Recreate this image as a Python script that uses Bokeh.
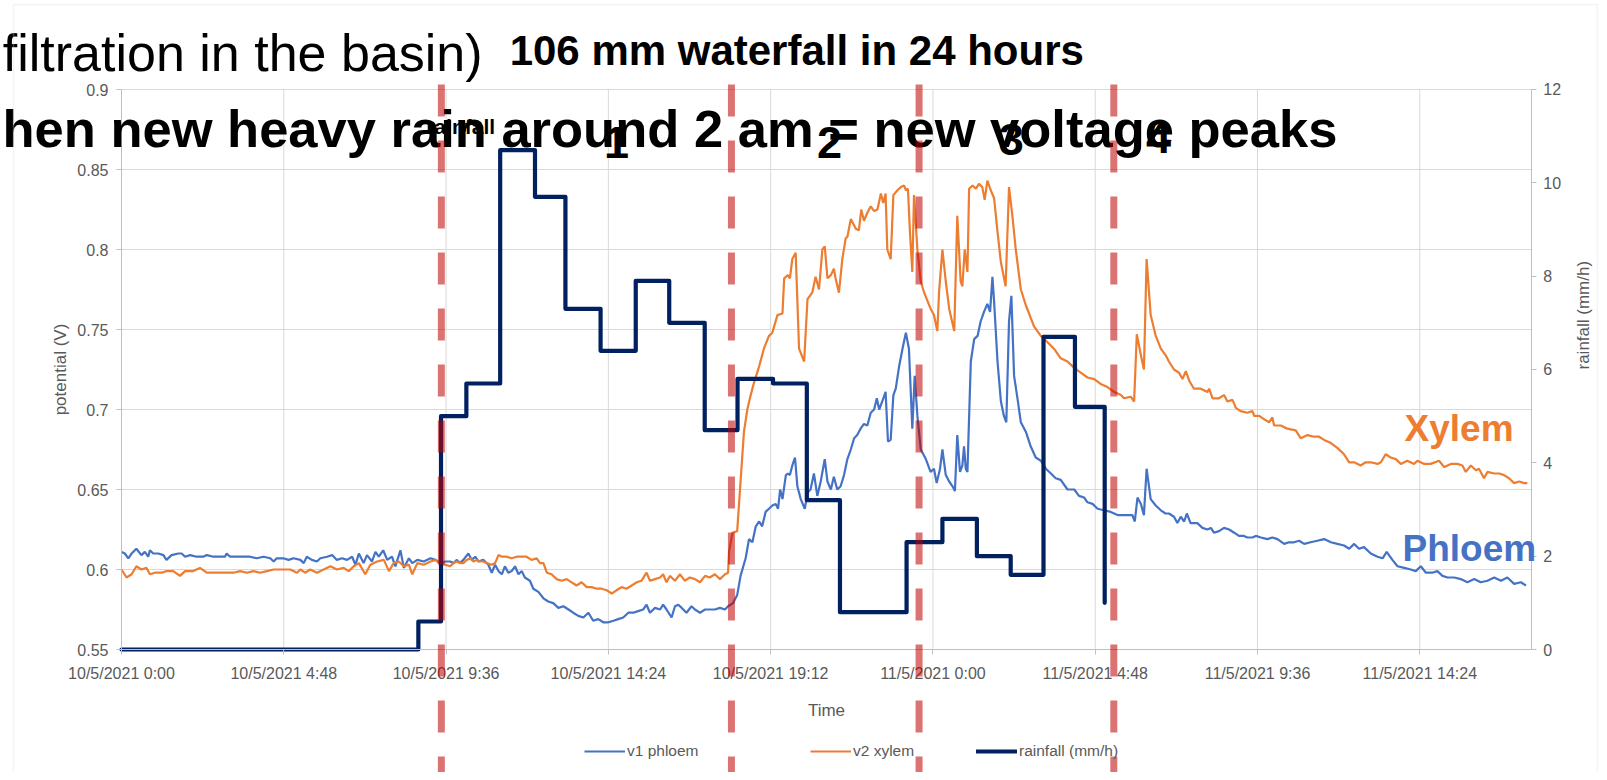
import math
from bokeh.plotting import figure
from bokeh.models import (Range1d, LinearAxis, FixedTicker, Label, Arrow, Legend,
                          LegendItem, BoxAnnotation)
from bokeh.embed import file_html
from bokeh.resources import INLINE

# ---------------- data (hours since 10/5/2021 0:00) ----------------
x_tick_hours = [0, 4.8, 9.6, 14.4, 19.2, 24, 28.8, 33.6, 38.4]
x_tick_labels = ["10/5/2021 0:00", "10/5/2021 4:48", "10/5/2021 9:36", "10/5/2021 14:24",
                 "10/5/2021 19:12", "11/5/2021 0:00", "11/5/2021 4:48", "11/5/2021 9:36",
                 "11/5/2021 14:24"]
v_ticks = [0.55, 0.6, 0.65, 0.7, 0.75, 0.8, 0.85, 0.9]
v_tick_labels = ["0.55", "0.6", "0.65", "0.7", "0.75", "0.8", "0.85", "0.9"]
rain_ticks = [0, 2, 4, 6, 8, 10, 12]
x_end_h = 41.7

phloem_h = [0.00, 0.10, 0.20, 0.30, 0.44, 0.59, 0.69, 0.79, 0.84, 0.94, 1.09, 1.24, 1.33, 1.48,
            1.68, 1.78, 1.88, 2.03, 2.22, 2.42, 2.52, 2.72, 2.92, 3.06, 3.11, 3.21, 3.41, 3.61,
            3.80, 4.00, 4.20, 4.40, 4.50, 4.59, 4.79, 4.94, 5.09, 5.29, 5.39, 5.48, 5.63, 5.78,
            5.88, 6.08, 6.23, 6.37, 6.52, 6.67, 6.82, 6.92, 7.02, 7.16, 7.26, 7.41, 7.51, 7.61,
            7.74, 7.86, 8.00, 8.10, 8.25, 8.35, 8.50, 8.60, 8.75, 8.94, 9.14, 9.29, 9.44, 9.58,
            9.72, 9.82, 9.92, 10.01, 10.11, 10.26, 10.36, 10.46, 10.56, 10.70, 10.85, 10.95,
            11.05, 11.15, 11.25, 11.34, 11.44, 11.54, 11.64, 11.74, 11.84, 11.93, 12.08, 12.18,
            12.33, 12.48, 12.62, 12.77, 12.92, 13.07, 13.22, 13.36, 13.51, 13.66, 13.81, 13.95,
            14.10, 14.25, 14.40, 14.55, 14.69, 14.84, 14.99, 15.14, 15.28, 15.43, 15.53, 15.63,
            15.78, 15.93, 16.02, 16.12, 16.27, 16.37, 16.47, 16.57, 16.71, 16.86, 16.96, 17.11,
            17.26, 17.40, 17.55, 17.70, 17.85, 17.94, 18.09,
            18.21, 18.31, 18.46, 18.56, 18.66, 18.76, 18.86, 18.95, 19.05, 19.15, 19.25, 19.35,
            19.42, 19.48, 19.55, 19.65, 19.71, 19.77, 19.84, 19.92, 19.99, 20.09, 20.21, 20.29,
            20.38, 20.48, 20.58, 20.68, 20.80, 20.88, 20.98, 21.07, 21.17, 21.27, 21.37, 21.47,
            21.57, 21.67, 21.76, 21.86, 21.96, 22.06, 22.16, 22.26, 22.34, 22.41, 22.50, 22.60,
            22.67, 22.75, 22.83, 22.90, 23.00, 23.10, 23.20, 23.29, 23.39, 23.46, 23.54, 23.64,
            23.79, 23.93, 24.03, 24.11, 24.21, 24.28, 24.38, 24.48, 24.58, 24.65, 24.72, 24.80,
            24.87, 24.92, 24.97, 25.02, 25.12, 25.22, 25.32, 25.41, 25.51, 25.61, 25.69, 25.76,
            25.81, 25.91, 26.01, 26.10, 26.17, 26.25, 26.32, 26.40, 26.50, 26.60, 26.75, 26.89,
            27.04, 27.19, 27.34, 27.49, 27.63, 27.78, 27.98, 28.18, 28.32, 28.47, 28.57, 28.72,
            28.87, 29.06, 29.26, 29.46,
            29.65, 29.90, 29.97, 30.05, 30.15, 30.24, 30.32, 30.44, 30.59, 30.74, 30.88, 30.98,
            31.13, 31.23, 31.33, 31.43, 31.51, 31.62, 31.82, 31.97, 32.12, 32.22, 32.31, 32.46,
            32.61, 32.76, 32.91, 33.05, 33.20, 33.30, 33.45, 33.55, 33.70, 33.89, 34.04, 34.19,
            34.39, 34.53, 34.68, 34.83, 34.98, 35.17, 35.37, 35.57, 35.77, 35.96, 36.16, 36.31,
            36.46, 36.60, 36.75, 36.95, 37.15, 37.30, 37.42, 37.59, 37.74, 37.94, 38.13, 38.28,
            38.43, 38.58, 38.77, 38.92, 39.07, 39.22, 39.42, 39.61, 39.81, 40.01, 40.20, 40.40,
            40.60, 40.80, 40.99, 41.19, 41.39, 41.54]
phloem_v = [0.611, 0.610, 0.607, 0.610, 0.613, 0.609, 0.611, 0.608, 0.612, 0.610, 0.610, 0.609,
            0.606, 0.609, 0.610, 0.610, 0.608, 0.609, 0.608, 0.608, 0.609, 0.608, 0.608, 0.608,
            0.610, 0.608, 0.608, 0.608, 0.608, 0.607, 0.608, 0.607, 0.605, 0.607, 0.607, 0.606,
            0.607, 0.606, 0.604, 0.608, 0.606, 0.605, 0.607, 0.608, 0.609, 0.606, 0.607, 0.606,
            0.608, 0.603, 0.610, 0.604, 0.609, 0.605, 0.611, 0.608, 0.612, 0.606, 0.608, 0.602,
            0.612, 0.601, 0.607, 0.604, 0.606, 0.605, 0.607, 0.606, 0.604, 0.605,
            0.605, 0.604, 0.606, 0.604, 0.606, 0.610, 0.606, 0.608, 0.605, 0.606, 0.603, 0.598,
            0.603, 0.599, 0.597, 0.602, 0.598, 0.599, 0.602, 0.597, 0.599, 0.595, 0.593, 0.588,
            0.586, 0.582, 0.580, 0.579, 0.576, 0.577, 0.575, 0.573, 0.571, 0.570, 0.573, 0.568,
            0.569, 0.567, 0.567, 0.568, 0.569, 0.570, 0.573, 0.573, 0.574, 0.575, 0.578, 0.573,
            0.576, 0.575, 0.578, 0.575, 0.570, 0.577, 0.578, 0.576, 0.573, 0.577, 0.575, 0.573,
            0.575, 0.575, 0.575, 0.576, 0.575, 0.577, 0.579,
            0.584, 0.596, 0.607, 0.619, 0.617, 0.627, 0.630, 0.627, 0.636, 0.638, 0.640, 0.641,
            0.638, 0.650, 0.644, 0.659, 0.660, 0.659, 0.665, 0.670, 0.652, 0.644, 0.638, 0.648,
            0.650, 0.660, 0.646, 0.655, 0.669, 0.655, 0.650, 0.658, 0.650, 0.652, 0.659, 0.669,
            0.675, 0.682, 0.684, 0.688, 0.691, 0.690, 0.698, 0.700, 0.707, 0.700, 0.705, 0.711,
            0.680, 0.681, 0.709, 0.713, 0.727, 0.738, 0.748, 0.738, 0.688, 0.721, 0.696, 0.675,
            0.669, 0.661, 0.663, 0.654, 0.663, 0.675, 0.659, 0.655, 0.652, 0.649, 0.684, 0.661,
            0.665, 0.677, 0.663, 0.661, 0.730, 0.744, 0.746, 0.755, 0.761, 0.766, 0.761, 0.783,
            0.767, 0.730, 0.705, 0.696, 0.692, 0.755, 0.771, 0.721, 0.707, 0.692, 0.686, 0.677,
            0.670, 0.668, 0.663, 0.660, 0.657, 0.656, 0.650, 0.650, 0.646, 0.645, 0.642, 0.641,
            0.638, 0.637, 0.636, 0.634,
            0.634, 0.634, 0.630, 0.645, 0.641, 0.634, 0.663, 0.644, 0.640, 0.637, 0.635, 0.635,
            0.633, 0.629, 0.633, 0.630, 0.635, 0.629, 0.629, 0.626, 0.625, 0.626, 0.623, 0.624,
            0.626, 0.625, 0.623, 0.621, 0.621, 0.620, 0.620, 0.621, 0.620, 0.619, 0.620, 0.619,
            0.616, 0.617, 0.617, 0.618, 0.616, 0.617, 0.618, 0.619, 0.617, 0.616, 0.615, 0.613,
            0.616, 0.613, 0.614, 0.610, 0.608, 0.607, 0.611, 0.606, 0.602, 0.601, 0.600, 0.599,
            0.602, 0.598, 0.598, 0.599, 0.596, 0.595, 0.595, 0.594, 0.592, 0.594, 0.592, 0.593,
            0.595, 0.593, 0.595, 0.591, 0.592, 0.590]

xylem_h = [0.00, 0.15, 0.30, 0.44, 0.59, 0.74, 0.84, 0.99, 1.19, 1.33, 1.53, 1.73, 1.88, 2.12,
           2.32, 2.52, 2.82, 3.11, 3.31, 3.51, 3.71, 3.90, 4.10, 4.30, 4.50, 4.79, 4.99, 5.19,
           5.29, 5.43, 5.58, 5.78, 5.98, 6.18, 6.37, 6.57, 6.72, 6.87, 7.02, 7.21, 7.36, 7.56,
           7.76, 7.91, 8.05, 8.20, 8.35, 8.50, 8.60, 8.75, 8.94, 9.14, 9.29, 9.44, 9.58,
           9.72, 9.82, 9.92, 10.01, 10.11, 10.21, 10.31, 10.41, 10.51, 10.60, 10.70, 10.80,
           10.95, 11.05, 11.15, 11.25, 11.39, 11.54, 11.69, 11.84, 11.98, 12.13, 12.28, 12.38,
           12.48, 12.58, 12.72, 12.87, 13.02, 13.17, 13.31, 13.46, 13.61, 13.76, 13.91, 14.05,
           14.20, 14.35, 14.50, 14.64, 14.79, 14.94, 15.09, 15.24, 15.38, 15.53, 15.63, 15.78,
           15.93, 16.02, 16.12, 16.22, 16.37, 16.52, 16.66, 16.81, 16.96, 17.11, 17.26, 17.40,
           17.55, 17.70, 17.85, 17.94,
           17.97, 18.07, 18.21, 18.31, 18.41, 18.51, 18.61, 18.71, 18.86, 19.00, 19.15, 19.25,
           19.40, 19.55, 19.60, 19.71, 19.77, 19.84, 19.94, 20.04, 20.19, 20.29, 20.43, 20.53,
           20.63, 20.73, 20.80, 20.88, 20.98, 21.07, 21.12, 21.22, 21.32, 21.42, 21.47, 21.57,
           21.72, 21.81, 21.88, 21.96, 22.06, 22.16, 22.26, 22.36, 22.46, 22.53, 22.60, 22.65,
           22.75, 22.83, 22.95, 23.05, 23.15, 23.20, 23.26, 23.32, 23.39, 23.44, 23.54, 23.64,
           23.74, 23.93, 24.03, 24.13, 24.18, 24.28, 24.38, 24.48, 24.63, 24.72, 24.82, 24.87,
           24.94, 25.02, 25.07, 25.17, 25.27, 25.36, 25.46, 25.53, 25.61, 25.71, 25.81, 25.91,
           26.01, 26.15, 26.25, 26.35, 26.45, 26.60, 26.75, 26.99, 27.19, 27.39, 27.58, 27.78,
           27.98, 28.18, 28.37, 28.57, 28.77, 28.96, 29.16, 29.36, 29.56,
           29.65, 29.85, 29.95, 30.03, 30.15, 30.24, 30.32, 30.44, 30.59, 30.74, 30.88, 30.98,
           31.13, 31.28, 31.38, 31.48, 31.58, 31.72, 31.92, 32.12, 32.17, 32.27, 32.46, 32.61,
           32.71, 32.86, 32.96, 33.10, 33.30, 33.45, 33.50, 33.65, 33.79, 33.94, 34.04, 34.09,
           34.29, 34.48, 34.73, 34.88, 35.08, 35.27, 35.42, 35.57, 35.77, 35.96, 36.16, 36.31,
           36.46, 36.65, 36.80, 36.95, 37.15, 37.25, 37.39, 37.54, 37.69, 37.84, 38.03, 38.23,
           38.33, 38.53, 38.72, 38.97, 39.12, 39.32, 39.51, 39.66, 39.76, 39.91, 40.06, 40.15,
           40.30, 40.40, 40.60, 40.75, 40.89, 41.04, 41.19, 41.34, 41.49, 41.58]
xylem_v = [0.600, 0.595, 0.597, 0.602, 0.600, 0.601, 0.597, 0.598, 0.598, 0.599, 0.599, 0.596,
           0.599, 0.599, 0.601, 0.598, 0.598, 0.598, 0.598, 0.599, 0.598, 0.599, 0.598, 0.599,
           0.600, 0.600, 0.600, 0.598, 0.600, 0.598, 0.600, 0.598, 0.600, 0.602, 0.600, 0.601,
           0.599, 0.602, 0.604, 0.597, 0.603, 0.605, 0.606, 0.599, 0.604, 0.605, 0.602, 0.603,
           0.597, 0.604, 0.603, 0.605, 0.606, 0.603, 0.603,
           0.602, 0.604, 0.605, 0.604, 0.604, 0.606, 0.607, 0.605, 0.606, 0.605, 0.605, 0.604,
           0.603, 0.604, 0.609, 0.608, 0.608, 0.607, 0.608, 0.608, 0.608, 0.606, 0.607, 0.604,
           0.604, 0.598, 0.597, 0.594, 0.593, 0.594, 0.592, 0.590, 0.592, 0.589, 0.589, 0.588,
           0.588, 0.587, 0.585, 0.587, 0.589, 0.588, 0.590, 0.592, 0.593, 0.598, 0.593, 0.594,
           0.595, 0.597, 0.592, 0.596, 0.593, 0.597, 0.593, 0.595, 0.594, 0.592, 0.596, 0.595,
           0.597, 0.594, 0.597, 0.598,
           0.611, 0.623, 0.624, 0.655, 0.686, 0.700, 0.709, 0.717, 0.727, 0.738, 0.746, 0.748,
           0.759, 0.760, 0.782, 0.784, 0.782, 0.794, 0.798, 0.738, 0.730, 0.769, 0.773, 0.783,
           0.775, 0.800, 0.802, 0.782, 0.784, 0.788, 0.782, 0.773, 0.794, 0.807, 0.808, 0.819,
           0.813, 0.812, 0.825, 0.818, 0.823, 0.827, 0.824, 0.825, 0.835, 0.829, 0.835, 0.800,
           0.794, 0.834, 0.837, 0.839, 0.840, 0.837, 0.838, 0.811, 0.786, 0.834, 0.800, 0.780,
           0.773, 0.763, 0.759, 0.749, 0.773, 0.800, 0.780, 0.763, 0.749, 0.821, 0.780, 0.777,
           0.800, 0.786, 0.838, 0.840, 0.838, 0.841, 0.839, 0.831, 0.843, 0.837, 0.832, 0.811,
           0.792, 0.777, 0.839, 0.821, 0.800, 0.775, 0.765, 0.752, 0.746, 0.742, 0.738, 0.732,
           0.730, 0.726, 0.723, 0.720, 0.719, 0.716, 0.714, 0.711, 0.709,
           0.707, 0.708, 0.705, 0.747, 0.734, 0.725, 0.794, 0.759, 0.746, 0.738, 0.734, 0.730,
           0.725, 0.723, 0.719, 0.724, 0.718, 0.713, 0.713, 0.711, 0.713, 0.707, 0.707, 0.709,
           0.705, 0.706, 0.701, 0.699, 0.698, 0.699, 0.696, 0.696, 0.694, 0.692, 0.695, 0.690,
           0.690, 0.688, 0.687, 0.682, 0.684, 0.683, 0.683, 0.681, 0.679, 0.676, 0.672, 0.667,
           0.667, 0.665, 0.667, 0.667, 0.666, 0.667, 0.672, 0.670, 0.669, 0.666, 0.668, 0.666,
           0.668, 0.666, 0.666, 0.668, 0.664, 0.666, 0.666, 0.665, 0.661, 0.665, 0.662, 0.663,
           0.657, 0.661, 0.660, 0.660, 0.659, 0.657, 0.654, 0.655, 0.654, 0.654]

# hourly rainfall (mm/h): start of each step and its value
rain_h = [0, 8.78, 9.45, 10.2, 11.2, 12.23, 13.13, 14.17, 15.21, 16.2, 17.25, 18.22, 19.27,
          20.27, 21.25, 23.22, 24.28, 25.3, 26.3, 27.27, 28.2, 29.08]
rain_v = [0, 0.6, 5.0, 5.7, 10.7, 9.7, 7.3, 6.4, 7.9, 7.0, 4.7, 5.8, 5.7,
          3.2, 0.8, 2.3, 2.8, 2.0, 1.6, 6.7, 5.2, 1.0]

# red dashed event markers (hours) and their numbers
event_h = [9.46, 18.04, 23.59, 29.35]
event_labels = ["1", "2", "3", "4"]

# ---------------- styles ----------------
BLUE = "#4472C4"
ORANGE = "#ED7D31"
NAVY = "#002060"
GREY_TXT = "#595959"
GRID = "#D9D9D9"
AXIS = "#BFBFBF"
FONT = "Liberation Sans"

# The frame fills the whole canvas (axes use fixed locations), so that slide
# overlays (texts, dashed markers, legend) are not clipped by the frame.
W, H = 1599, 772
p = figure(width=W, height=H, output_backend="svg", toolbar_location=None,
           title_location=None, x_axis_location=None, y_axis_location=None,
           x_range=Range1d(-3.579, 43.715), y_range=Range1d(0.473125, 0.955625),
           min_border_left=0, min_border_right=0, min_border_top=0, min_border_bottom=0)
p.outline_line_color = None
p.background_fill_color = "white"
p.border_fill_color = "white"
p.xgrid.visible = False
p.ygrid.visible = False
p.extra_y_ranges = {"rain": Range1d(-2.6357, 13.9071)}

# grid lines of the chart area
p.segment(x0=x_tick_hours, y0=[v_ticks[0]] * len(x_tick_hours),
          x1=x_tick_hours, y1=[v_ticks[-1]] * len(x_tick_hours),
          line_color=GRID, line_width=1, level="underlay")
p.segment(x0=[0] * len(v_ticks), y0=v_ticks, x1=[x_end_h] * len(v_ticks), y1=v_ticks,
          line_color=GRID, line_width=1, level="underlay")

r_ph = p.line(phloem_h, phloem_v, line_color=BLUE, line_width=2.2)
r_xy = p.line(xylem_h, xylem_v, line_color=ORANGE, line_width=2.2)
r_rain = p.step(rain_h, rain_v, mode="after", y_range_name="rain", line_color=NAVY,
                line_width=4.2, line_join="round", line_cap="round")

# axes
xa = LinearAxis(fixed_location=v_ticks[0], bounds=(0, x_end_h),
                ticker=FixedTicker(ticks=x_tick_hours),
                major_label_overrides=dict(zip(x_tick_hours, x_tick_labels)),
                axis_label="Time", major_label_standoff=10, axis_label_standoff=16)
p.add_layout(xa, "below")
ya = LinearAxis(fixed_location=0, bounds=(v_ticks[0], v_ticks[-1]),
                ticker=FixedTicker(ticks=v_ticks),
                major_label_overrides=dict(zip(v_ticks, v_tick_labels)),
                axis_label="potential (V)", major_label_standoff=8, axis_label_standoff=4)
p.add_layout(ya, "left")
ra = LinearAxis(y_range_name="rain", fixed_location=x_end_h,
                bounds=(rain_ticks[0], rain_ticks[-1]), ticker=FixedTicker(ticks=rain_ticks),
                axis_label="rainfall (mm/h)", major_label_standoff=7, axis_label_standoff=19)
ra.axis_label_orientation = math.pi / 2
p.add_layout(ra, "right")

for ax in (xa, ya, ra):
    ax.axis_line_color = AXIS
    ax.major_tick_line_color = AXIS
    ax.major_tick_out = 5
    ax.major_tick_in = 0
    ax.minor_tick_line_color = None
    ax.major_label_text_color = GREY_TXT
    ax.major_label_text_font = FONT
    ax.major_label_text_font_size = "16px"
    ax.axis_label_text_color = GREY_TXT
    ax.axis_label_text_font = FONT
    ax.axis_label_text_font_size = "17px"
    ax.axis_label_text_font_style = "normal"
xa.axis_label_text_align = "right"

# legends (three single-item legends below the chart)
for lbl, rend, lx in (("v1 phloem", r_ph, 584), ("v2 xylem", r_xy, 810),
                      ("rainfall (mm/h)", r_rain, 976)):
    lg = Legend(items=[LegendItem(label=lbl, renderers=[rend])], location=(lx, 12),
                orientation="horizontal", padding=0, margin=0, spacing=0,
                glyph_width=41, glyph_height=16, label_standoff=2,
                border_line_color=None, background_fill_alpha=0,
                label_text_font=FONT, label_text_font_size="15.5px",
                label_text_color=GREY_TXT, label_height=16)
    p.add_layout(lg)

# slide texts overlaying the chart (y = visual centre of the capitals)
def add_text(txt, x, y, size, bold=True, color="black", align="left"):
    p.add_layout(Label(x=x, y=y, text=txt, text_font=FONT, text_font_size=size,
                       text_font_style="bold" if bold else "normal", text_color=color,
                       text_align=align, text_baseline="middle"))

add_text("filtration in the basin)", 10.68, 0.9228, "52px", bold=False, align="right")
add_text("106 mm waterfall in 24 hours", 11.48, 0.9245, "42px")
for h, txt, yv in zip([14.64, 20.94, 26.32, 30.67], event_labels,
                      [0.8669, 0.8669, 0.8688, 0.8700]):
    add_text(txt, h, yv, "45px", align="center")
add_text("hen new heavy rain around 2 am = new voltage peaks", -3.52, 0.8759, "52.5px")
add_text("rainfall", 10.03, 0.8769, "21px", align="center")
add_text("Xylem", 37.95, 0.6884, "37px", color=ORANGE)
add_text("Phloem", 37.89, 0.6134, "37px", color=BLUE)

# outline of the slide's chart object
p.add_layout(BoxAnnotation(left=-3.194, right=43.65, top=0.9531, bottom=0.40,
                           fill_alpha=0, line_color=GRID, line_width=1.5))

# red dashed event lines on top
for h in event_h:
    p.add_layout(Arrow(end=None, x_start=h, y_start=0.9031, x_end=h, y_end=0.47,
                       line_color="#C00000", line_alpha=0.55, line_width=7,
                       line_dash="32 24"))

open("out.html", "w").write(file_html(p, INLINE))
